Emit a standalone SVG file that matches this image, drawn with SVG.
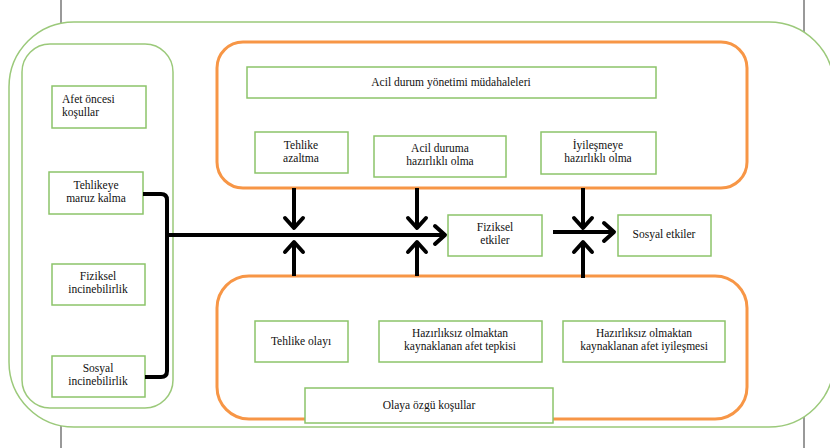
<svg xmlns="http://www.w3.org/2000/svg" width="830" height="448" viewBox="0 0 830 448" font-family="'Liberation Serif', 'Times New Roman', serif">
<style>
  .page{stroke:#555;stroke-width:1.2;fill:none}
  .grp{fill:#fff;stroke:#9BC97A;stroke-width:1.5}
  .org{fill:#fff;stroke:#F79646;stroke-width:3}
  .box{fill:#fff;stroke:#8CC46A;stroke-width:1.5}
  text{font-family:'Liberation Serif','Times New Roman',serif;font-size:11.5px;fill:#111;text-anchor:middle}
  text.tl{text-anchor:start}
  .c{stroke:#000;stroke-width:4;fill:none}
</style>
<defs>
  <marker id="arr" viewBox="-13 -12 16 24" markerWidth="16" markerHeight="24" markerUnits="userSpaceOnUse" refX="0" refY="0" orient="auto">
    <path d="M-10,-9 L0,0 L-10,9" fill="none" stroke="#000" stroke-width="4" stroke-linejoin="round" stroke-linecap="round"/>
  </marker>
</defs>
<rect width="830" height="448" fill="#fff"/>
<g id="page">
  <line class="page" x1="61" y1="0" x2="61" y2="24"/>
  <line class="page" x1="804" y1="0" x2="804" y2="33"/>
  <line class="page" x1="61" y1="426" x2="61" y2="448"/>
  <line class="page" x1="804" y1="416" x2="804" y2="448"/>
</g>
<g id="outer"><rect class="grp" x="9" y="22" width="825" height="405" rx="65"/></g>
<g id="left-column"><rect class="grp" x="22" y="44" width="151" height="364" rx="28"/></g>
<g id="top-group"><rect class="org" x="217" y="42" width="530" height="146" rx="26"/></g>
<g id="bottom-group"><rect class="org" x="217" y="276" width="530" height="143" rx="32"/></g>

<g id="afet-oncesi"><rect class="box" x="52" y="86" width="94" height="42"/>
  <text class="tl" x="62" y="103">Afet öncesi</text><text class="tl" x="62" y="116">koşullar</text></g>
<g id="tehlikeye-maruz"><rect class="box" x="49" y="172" width="94" height="42"/>
  <text x="96" y="189">Tehlikeye</text><text x="96" y="202">maruz kalma</text></g>
<g id="fiziksel-incinebilirlik"><rect class="box" x="52" y="264" width="93" height="41"/>
  <text x="98" y="280">Fiziksel</text><text x="98" y="293">incinebilirlik</text></g>
<g id="sosyal-incinebilirlik"><rect class="box" x="52" y="356" width="93" height="41"/>
  <text x="98" y="372">Sosyal</text><text x="98" y="385">incinebilirlik</text></g>

<g id="acil-durum-yonetimi"><rect class="box" x="247" y="67" width="409" height="31"/>
  <text x="451" y="86">Acil durum yönetimi müdahaleleri</text></g>
<g id="tehlike-azaltma"><rect class="box" x="255" y="132" width="93" height="41"/>
  <text x="301" y="149">Tehlike</text><text x="301" y="162">azaltma</text></g>
<g id="acil-duruma-hazirlikli"><rect class="box" x="374" y="136" width="132" height="41"/>
  <text x="440" y="152">Acil duruma</text><text x="440" y="165">hazırlıklı olma</text></g>
<g id="iyilesmeye-hazirlikli"><rect class="box" x="541" y="132" width="115" height="42"/>
  <text x="598" y="149">İyileşmeye</text><text x="598" y="162">hazırlıklı olma</text></g>

<g id="fiziksel-etkiler"><rect class="box" x="448" y="215" width="94" height="41"/>
  <text x="495" y="231">Fiziksel</text><text x="495" y="244">etkiler</text></g>
<g id="sosyal-etkiler"><rect class="box" x="618" y="215" width="93" height="41"/>
  <text x="664" y="238">Sosyal etkiler</text></g>

<g id="tehlike-olayi"><rect class="box" x="255" y="321" width="93" height="41"/>
  <text x="301" y="345">Tehlike olayı</text></g>
<g id="afet-tepkisi"><rect class="box" x="379" y="321" width="163" height="41"/>
  <text x="460" y="337">Hazırlıksız olmaktan</text><text x="460" y="350">kaynaklanan afet tepkisi</text></g>
<g id="afet-iyilesmesi"><rect class="box" x="563" y="321" width="162" height="41"/>
  <text x="644" y="337">Hazırlıksız olmaktan</text><text x="644" y="350">kaynaklanan afet iyileşmesi</text></g>
<g id="olaya-ozgu"><rect class="box" x="305" y="388" width="248" height="35"/>
  <text x="429" y="409">Olaya özgü koşullar</text></g>

<g id="connectors">
  <path class="c" d="M143,194 H161 Q167,194 167,200 V371 Q167,377 161,377 H145"/>
  <line class="c" x1="167" y1="235" x2="445" y2="235" marker-end="url(#arr)"/>
  <line class="c" x1="294" y1="188" x2="294" y2="228" marker-end="url(#arr)"/>
  <line class="c" x1="294" y1="276" x2="294" y2="242" marker-end="url(#arr)"/>
  <line class="c" x1="417" y1="188" x2="417" y2="228" marker-end="url(#arr)"/>
  <line class="c" x1="417" y1="276" x2="417" y2="242" marker-end="url(#arr)"/>
  <line class="c" x1="583" y1="188" x2="583" y2="228" marker-end="url(#arr)"/>
  <line class="c" x1="583" y1="278" x2="583" y2="242" marker-end="url(#arr)"/>
  <line class="c" x1="553" y1="232" x2="614" y2="232" marker-end="url(#arr)"/>
</g>
</svg>
